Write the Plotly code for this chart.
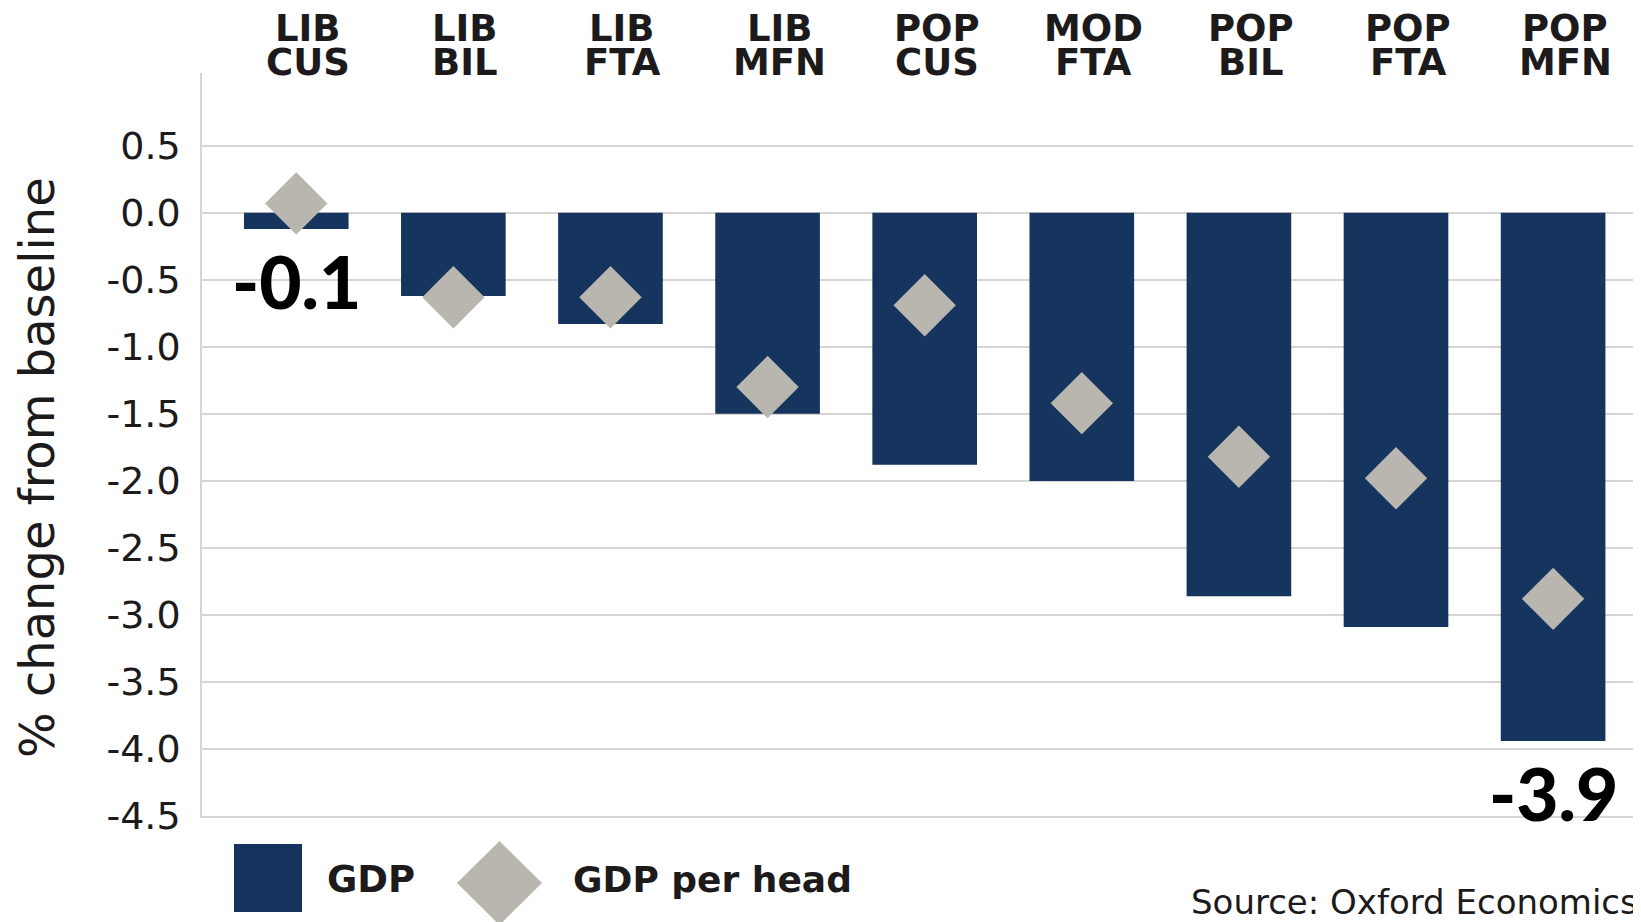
import plotly.graph_objects as go

# ---- data ----
scenario = ["LIB", "LIB", "LIB", "LIB", "POP", "MOD", "POP", "POP", "POP"]
regime = ["CUS", "BIL", "FTA", "MFN", "CUS", "FTA", "BIL", "FTA", "MFN"]
gdp = [-0.12, -0.62, -0.83, -1.50, -1.88, -2.00, -2.86, -3.09, -3.94]
gdp_per_head = [0.07, -0.63, -0.63, -1.30, -0.69, -1.42, -1.82, -1.98, -2.88]
labelled_idx = [0, 8]
y_ticks = [0.5, 0.0, -0.5, -1.0, -1.5, -2.0, -2.5, -3.0, -3.5, -4.0, -4.5]
y_title = "% change from baseline"
source = "Source: Oxford Economics"
legend_names = ["GDP", "GDP per head"]

categories = [f"{a} {b}" for a, b in zip(scenario, regime)]

NAVY = "#15345E"
GRAY = "#B9B5AF"
GRID = "#D6D4D4"
TXT = "#1C1A1B"

OFF = 8  # page body margin
W, H = 1641 - OFF, 922 - OFF
ML, MT = 202 - OFF, 73 - OFF
PLOT_RIGHT = 1637 - OFF
PLOT_BOTTOM = 816 - OFF
MR, MB = W - PLOT_RIGHT, H - PLOT_BOTTOM
PW, PH = W - ML - MR, H - MT - MB


def px(x):
    """target page pixel x -> paper x"""
    return (x - OFF - ML) / PW


def py(y):
    """target page pixel y -> paper y"""
    return (PLOT_BOTTOM - (y - OFF)) / PH


fig = go.Figure()
fig.add_trace(go.Bar(x=categories, y=gdp, name=legend_names[0],
                     marker=dict(color=NAVY, line=dict(width=0)), width=0.666))
fig.add_trace(go.Scatter(x=categories, y=gdp_per_head, name=legend_names[1], mode="markers",
                         marker=dict(symbol="diamond", size=48, color=GRAY, line=dict(width=0))))

annotations = []
LBL_FONT = dict(family="DejaVu Sans", size=37, color=TXT, weight="bold")
for c, a, b in zip(categories, scenario, regime):
    annotations.append(dict(x=c, xref="x", y=py(29), yref="paper", text=a, showarrow=False,
                            xanchor="center", yanchor="middle", xshift=12, font=LBL_FONT))
    annotations.append(dict(x=c, xref="x", y=py(62), yref="paper", text=b, showarrow=False,
                            xanchor="center", yanchor="middle", xshift=12, font=LBL_FONT))
# value labels
for i in labelled_idx:
    annotations.append(dict(x=categories[i], y=gdp[i], text=f"{gdp[i]:.1f}", showarrow=False,
                            xanchor="center", yanchor="top", yshift=-6,
                            font=dict(family="Lato", size=73, color="#000000", weight=900)))
# y title
annotations.append(dict(x=px(37), y=py(468), xref="paper", yref="paper", text=y_title,
                        textangle=-90, showarrow=False, xanchor="center", yanchor="middle",
                        font=dict(family="DejaVu Sans", size=48, color=TXT)))
# legend texts
annotations.append(dict(x=px(325), y=py(879), xref="paper", yref="paper", text=legend_names[0],
                        showarrow=False, xanchor="left", yanchor="middle",
                        font=dict(family="DejaVu Sans", size=37, color=TXT, weight="bold")))
annotations.append(dict(x=px(571), y=py(879), xref="paper", yref="paper", text=legend_names[1],
                        showarrow=False, xanchor="left", yanchor="middle",
                        font=dict(family="DejaVu Sans", size=36, color=TXT, weight="bold")))
# source
annotations.append(dict(x=px(1640), y=py(902), xref="paper", yref="paper", text=source,
                        showarrow=False, xanchor="right", yanchor="middle",
                        font=dict(family="DejaVu Sans", size=34, color=TXT)))

shapes = [
    dict(type="rect", xref="paper", yref="paper", x0=px(234), x1=px(302), y0=py(912), y1=py(844),
         fillcolor=NAVY, line=dict(width=0)),
    dict(type="path", xref="paper", yref="paper",
         path=f"M {px(457)} {py(883)} L {px(499.5)} {py(841)} L {px(542)} {py(883)} "
              f"L {px(499.5)} {py(925)} Z",
         fillcolor=GRAY, line=dict(width=0)),
]

fig.update_layout(
    width=W, height=H,
    margin=dict(l=ML, r=MR, t=MT, b=MB),
    paper_bgcolor="white", plot_bgcolor="white",
    showlegend=False,
    annotations=annotations,
    shapes=shapes,
    font=dict(family="DejaVu Sans", color=TXT),
)
fig.update_xaxes(type="category", range=[-0.6, 8.534], showticklabels=False,
                 showgrid=False, zeroline=False, showline=True, linecolor=GRID, linewidth=1.5)
fig.update_yaxes(range=[-4.5, 1.043], tickvals=y_ticks, ticktext=[f"{v:.1f}" for v in y_ticks],
                 tickfont=dict(family="DejaVu Sans", size=38, color=TXT),
                 showgrid=True, gridcolor=GRID, gridwidth=1.5,
                 zeroline=False, showline=True, linecolor=GRID, linewidth=1.5,
                 ticks="", ticklabelstandoff=12)

fig.write_html("out.html")
